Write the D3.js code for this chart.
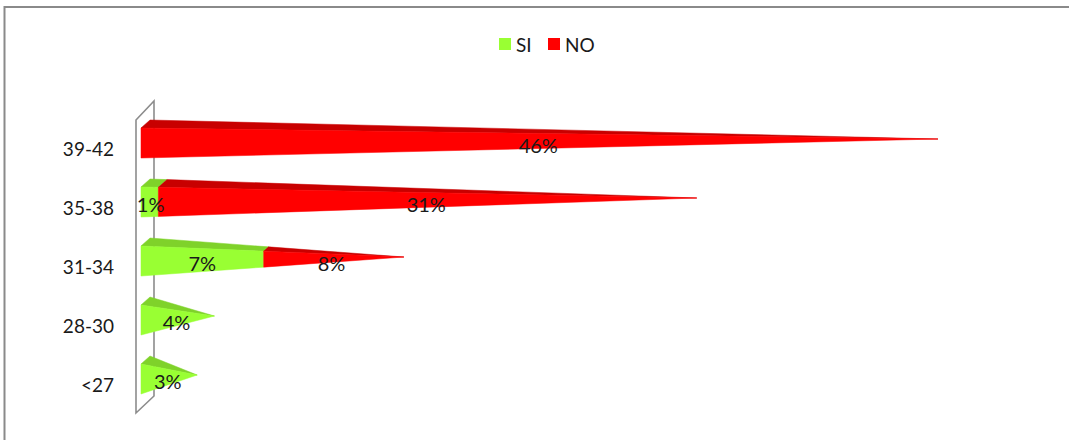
<!DOCTYPE html>
<html>
<head>
<meta charset="utf-8">
<script src="https://cdn.jsdelivr.net/npm/d3@7"></script>
<style>
  html, body { margin: 0; padding: 0; background: #fff; }
  svg { display: block; font-family: Lato, "Open Sans", sans-serif; }
</style>
</head>
<body>
<svg id="chart" width="1069" height="440"></svg>
<script>
// Age groups (bottom to top) and share of answers per group
const categories = ["<27", "28-30", "31-34", "35-38", "39-42"];
const siValues = [3, 4, 7, 1, 0];
const noValues = [0, 0, 8, 31, 46];
const seriesNames = ["SI", "NO"];

const colors = {
  SI: { front: "#99ff33", top: "#7fd22a" },
  NO: { front: "#ff0000", top: "#c80000" }
};

const svg = d3.select("#chart");

// frame
svg.append("rect")
  .attr("x", 4.5).attr("y", 7)
  .attr("width", 1200).attr("height", 600)
  .attr("fill", "none").attr("stroke", "#8a8a8a").attr("stroke-width", 2);

// scales
const x = d3.scaleLinear().domain([0, 46]).range([141, 933.5]);
const y = d3.scalePoint()
  .domain(categories.slice().reverse())
  .range([113.5, 408.5])
  .padding(0.5);

const half = 15;          // half height of a pyramid base
const depth = [4.5, -4];  // oblique offset for half the depth

// oblique projection of a point (value along the bar, y, z in [-1, 1])
function P(v, yy, z) {
  return [x(v) + depth[0] * (1 + z), yy + depth[1] * (1 + z)];
}

// side wall of the category axis
const wall = [[136, 120], [154, 101], [154, 396], [136, 413]];
svg.append("path")
  .attr("d", d3.line()(wall) + "Z")
  .attr("fill", "none").attr("stroke", "#8c8c8c").attr("stroke-width", 1.6);

// stacked segments
const rows = categories.map((c, i) => {
  const total = siValues[i] + noValues[i];
  return {
    cat: c, total,
    segs: [
      { name: "SI", v0: 0, v1: siValues[i] },
      { name: "NO", v0: siValues[i], v1: siValues[i] + noValues[i] }
    ].filter(s => s.v1 > s.v0)
  };
});

const g = svg.append("g");
rows.forEach(r => {
  const c = y(r.cat);
  r.segs.forEach(s => {
    const k0 = 1 - s.v0 / r.total, k1 = 1 - s.v1 / r.total;
    const front = [
      P(s.v0, c - half * k0, -k0), P(s.v1, c - half * k1, -k1),
      P(s.v1, c + half * k1, -k1), P(s.v0, c + half * k0, -k0)
    ];
    const top = [
      P(s.v0, c - half * k0, -k0), P(s.v0, c - half * k0, k0),
      P(s.v1, c - half * k1, k1), P(s.v1, c - half * k1, -k1)
    ];
    g.append("path").attr("d", d3.line()(top) + "Z")
      .attr("fill", colors[s.name].top)
      .attr("stroke", colors[s.name].top).attr("stroke-width", 0.5);
    g.append("path").attr("d", d3.line()(front) + "Z")
      .attr("fill", colors[s.name].front)
      .attr("stroke", colors[s.name].front).attr("stroke-width", 0.5);
  });
});

// value labels
rows.forEach(r => {
  const c = y(r.cat);
  r.segs.forEach(s => {
    svg.append("text")
      .attr("x", x((s.v0 + s.v1) / 2) + 1)
      .attr("y", c + 2)
      .attr("text-anchor", "middle")
      .attr("dominant-baseline", "central")
      .attr("font-size", 20)
      .attr("fill", "#1a1a1a")
      .text((s.v1 - s.v0) + "%");
  });
});

// category labels
svg.append("g").selectAll("text")
  .data(categories)
  .join("text")
  .attr("x", 114)
  .attr("y", d => y(d) + 5.5)
  .attr("text-anchor", "end")
  .attr("dominant-baseline", "central")
  .attr("font-size", 19)
  .attr("fill", "#1a1a1a")
  .text(d => d);

// legend
const legend = svg.append("g");
const legendX = [499, 548];
seriesNames.forEach((n, i) => {
  legend.append("rect")
    .attr("x", legendX[i]).attr("y", 38)
    .attr("width", 12).attr("height", 12)
    .attr("fill", colors[n].front);
  legend.append("text")
    .attr("x", legendX[i] + 17).attr("y", 44.5)
    .attr("dominant-baseline", "central")
    .attr("font-size", 19)
    .attr("fill", "#1a1a1a")
    .text(n);
});
</script>
</body>
</html>
